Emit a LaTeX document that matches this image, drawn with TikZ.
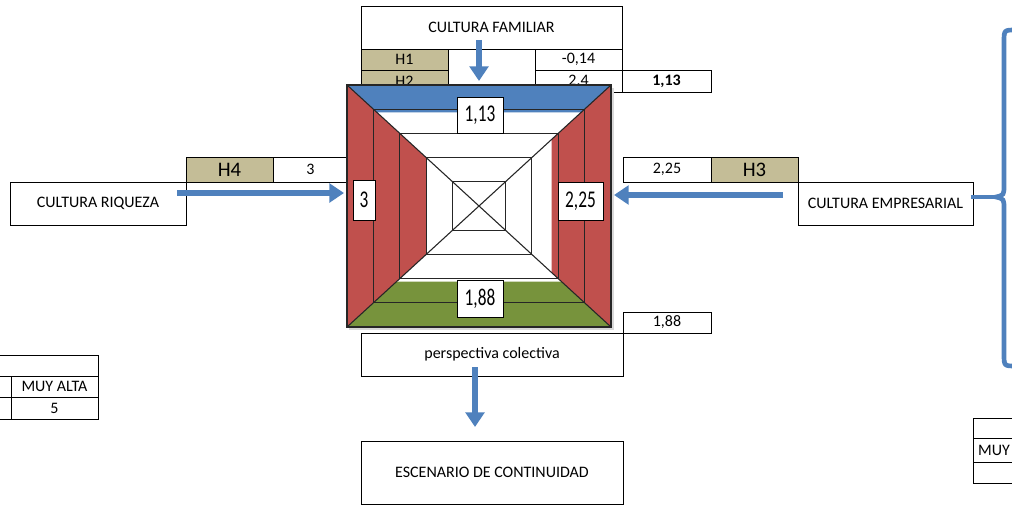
\documentclass[tikz,border=0pt]{standalone}
\usepackage{fontspec}
\setmainfont{Carlito}
\usetikzlibrary{arrows.meta,calc}

\definecolor{azul}{HTML}{4F81BD}
\definecolor{rojo}{HTML}{C0504D}
\definecolor{verde}{HTML}{77933C}
\definecolor{beige}{HTML}{C4BD97}

\newcommand{\estrecho}[1]{\scalebox{0.72}[1]{#1}}

\tikzset{
  celda/.style={draw, line width=0.7pt, inner sep=0pt, font=\fontsize{12}{14}\selectfont},
  hcelda/.style={celda, fill=beige, font=\fontsize{15.5}{17}\selectfont},
  caja/.style={draw, line width=0.7pt, inner sep=0pt, fill=white, font=\fontsize{12}{14}\selectfont},
  valor/.style={draw, line width=0.7pt, fill=white, inner sep=0pt, font=\fontsize{18}{20}\selectfont},
  flecha/.style={azul, line width=5pt, -{Triangle[length=11pt,width=14pt]}},
}

\begin{document}
\begin{tikzpicture}[x=0.75pt,y=-0.75pt]
\useasboundingbox (0,0) rectangle (1012,506);
\clip (0,0) rectangle (1012,506);

% Cultura familiar
\node[caja, minimum width=195.75pt, minimum height=32.25pt] (fam) at (491.5,27.5) {CULTURA FAMILIAR};
\node[celda, fill=beige, minimum width=65.25pt, minimum height=15.75pt] (h1) at (404.5,59.5) {H1};
\node[celda, fill=beige, minimum width=65.25pt, minimum height=16.5pt] (h2) at (404.5,81) {H2};
\node[celda, minimum width=65.25pt, minimum height=32.25pt] (hmid) at (491.5,70.5) {};
\node[celda, minimum width=65.25pt, minimum height=15.75pt] (v1) at (578.5,59.5) {-0,14};
\node[celda, minimum width=65.25pt, minimum height=16.5pt] (v2) at (578.5,81) {2,4};
\node[celda, minimum width=66.75pt, minimum height=16.5pt] (r1) at (666.5,81) {\textbf{1,13}};

% Cultura riqueza
\node[hcelda, minimum width=65.25pt, minimum height=18.75pt] (h4) at (229.5,169.5) {H4};
\node[celda, minimum width=56.25pt, minimum height=18.75pt] (v4) at (310.5,169.5) {3};
\node[caja, minimum width=132pt, minimum height=32.25pt] (riq) at (98,203.5) {CULTURA RIQUEZA};

% Cultura empresarial
\node[celda, minimum width=66pt, minimum height=18.75pt] (v3) at (667,169.5) {2,25};
\node[hcelda, minimum width=65.25pt, minimum height=18.75pt] (h3) at (754.5,169.5) {H3};
\node[caja, minimum width=131.25pt, minimum height=32.25pt] (emp) at (885.5,203.5) {CULTURA EMPRESARIAL};

% Perspectiva colectiva y escenario
\node[celda, minimum width=66pt, minimum height=15.75pt] (v5) at (667,322.5) {1,88};
\node[caja, minimum width=196.5pt, minimum height=32.25pt] (col) at (492,354.5) {perspectiva colectiva};
\node[caja, minimum width=196.5pt, minimum height=47.25pt] (esc) at (492,472.5) {ESCENARIO DE CONTINUIDAD};

% Tablas de escala
\node[celda, minimum width=77.25pt, minimum height=15.75pt] (ea) at (46.5,365.5) {};
\node[celda, minimum width=12pt, minimum height=15.75pt] (eb) at (3,386.5) {};
\node[caja, minimum width=65.25pt, minimum height=15.75pt] (ec) at (54.5,386.5) {MUY ALTA};
\node[celda, minimum width=12pt, minimum height=16.5pt] (ed) at (3,408) {};
\node[caja, minimum width=65.25pt, minimum height=16.5pt] (ee) at (54.5,408) {5};
\node[celda, minimum width=56.25pt, minimum height=15pt] (fa) at (1010.5,428) {};
\node[celda, minimum width=56.25pt, minimum height=18pt] (fb) at (1010.5,450) {};
\node[celda, minimum width=56.25pt, minimum height=15.75pt] (fc) at (1010.5,472.5) {};
\node[font=\fontsize{12}{14}\selectfont, anchor=west, inner sep=0pt] (fbt) at ([xshift=4]fb.west) {MUY};

% Piramide
\coordinate (pc) at (479,206);
\coordinate (tl) at (347,85);
\coordinate (tr) at (611,85);
\coordinate (br) at (611,327);
\coordinate (bl) at (347,327);
\fill[black!15] ([shift={(2,3)}]tl) rectangle ([shift={(3,3)}]br);
\fill[white] (tl) rectangle (br);
\fill[azul] (tl) -- (tr) -- ($(pc)!0.774!(tr)$) -- ($(pc)!0.774!(tl)$) -- cycle;
\fill[rojo] (tr) -- (br) -- ($(pc)!0.55!(br)$) -- ($(pc)!0.55!(tr)$) -- cycle;
\fill[verde] (bl) -- (br) -- ($(pc)!0.624!(br)$) -- ($(pc)!0.624!(bl)$) -- cycle;
\fill[rojo] (tl) -- (bl) -- ($(pc)!0.4!(bl)$) -- ($(pc)!0.4!(tl)$) -- cycle;
\foreach \s in {0.2,0.4,0.6,0.8,1}
  \draw[line width=0.8pt, black!85] ($(pc)!\s!(tl)$) rectangle ($(pc)!\s!(br)$);
\draw[line width=0.8pt, black!85] (tl) -- (br) (tr) -- (bl);

\node[valor, minimum width=34.5pt, minimum height=27pt] (vt) at (480,115) {\estrecho{1,13}};
\node[valor, minimum width=16.5pt, minimum height=30pt] (vl) at (364,200) {\estrecho{3}};
\node[valor, minimum width=33.75pt, minimum height=28.5pt] (vr) at (580.5,201) {\estrecho{2,25}};
\node[valor, minimum width=34.5pt, minimum height=27.75pt] (vb) at (480,298.5) {\estrecho{1,88}};

% Flechas
\coordinate (fa1) at (479,40);
\coordinate (fa2) at (479,81);
\coordinate (fl1) at (177,193);
\coordinate (fl2) at (344,193);
\coordinate (fr1) at (783,195);
\coordinate (fr2) at (614,195);
\coordinate (fb1) at (475,367);
\coordinate (fb2) at (475,427);
\draw[flecha] (fa1) -- (fa2);
\draw[flecha] (fl1) -- (fl2);
\draw[flecha] (fr1) -- (fr2);
\draw[flecha] (fb1) -- (fb2);

% Llave
\coordinate (punta) at (996,197);
\draw[azul, line width=3.5pt] ([xshift=-2]emp.east |- punta) -- (punta);
\draw[azul, line width=3.5pt, line cap=round]
(1016,30) .. controls (1004,30) .. (1004,42) --
(1004,185) .. controls (1004,195) .. (996,197)
.. controls (1004,199) .. (1004,209) --
(1004,354) .. controls (1004,366) .. (1016,366);

\end{tikzpicture}
\end{document}
